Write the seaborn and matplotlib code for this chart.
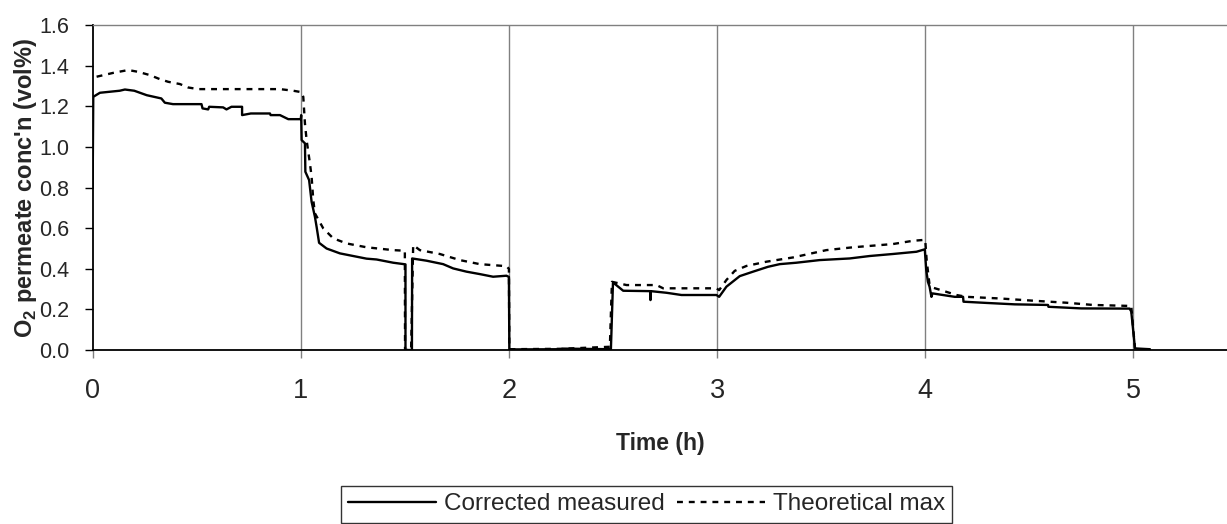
import pandas as pd
import matplotlib
matplotlib.use("Agg")
import matplotlib.pyplot as plt
import seaborn as sns

# data
meas_t = [0.0, 0.003, 0.035, 0.13, 0.155, 0.2, 0.26, 0.33, 0.347, 0.386, 0.523, 0.528,
          0.555, 0.56, 0.627, 0.643, 0.667, 0.718, 0.718, 0.76, 0.852, 0.855, 0.9, 0.94,
          1.0, 1.002, 1.004, 1.02, 1.022, 1.04, 1.052, 1.068, 1.076, 1.088, 1.124,
          1.188, 1.252, 1.316, 1.364, 1.444, 1.503, 1.503, 1.534, 1.535, 1.604, 1.684,
          1.732, 1.796, 1.86, 1.924, 1.988, 2.0, 2.002, 2.25, 2.26, 2.49, 2.5, 2.549,
          2.68, 2.68, 2.682, 2.757, 2.829, 2.997, 3.01, 3.045, 3.109, 3.173, 3.245,
          3.301, 3.381, 3.493, 3.637, 3.733, 3.845, 3.958, 3.998, 4.005, 4.013, 4.021,
          4.03, 4.035, 4.085, 4.142, 4.182, 4.184, 4.294, 4.43, 4.59, 4.592, 4.75,
          4.982, 4.99, 5.008, 5.08]
meas_v = [0.80, 1.247, 1.267, 1.277, 1.283, 1.277, 1.255, 1.239, 1.218, 1.211, 1.211, 1.19,
          1.185, 1.198, 1.195, 1.185, 1.198, 1.198, 1.157, 1.165, 1.165, 1.157, 1.157, 1.137,
          1.137, 1.157, 1.034, 1.018, 0.878, 0.837, 0.73, 0.656, 0.607, 0.528, 0.50,
          0.476, 0.463, 0.45, 0.446, 0.43, 0.422, 0.0, 0.0, 0.451, 0.44, 0.423,
          0.402, 0.386, 0.374, 0.361, 0.366, 0.36, 0.003, 0.004, 0.007, 0.004, 0.333, 0.292,
          0.29, 0.246, 0.29, 0.282, 0.271, 0.271, 0.262, 0.312, 0.364, 0.386, 0.41,
          0.423, 0.43, 0.443, 0.451, 0.463, 0.473, 0.484, 0.496, 0.394, 0.336, 0.312,
          0.262, 0.279, 0.271, 0.262, 0.262, 0.238, 0.232, 0.225, 0.222, 0.213, 0.205,
          0.204, 0.19, 0.008, 0.004]

theo_t = [0.019, 0.099, 0.171, 0.219, 0.275, 0.323, 0.363, 0.419, 0.459, 0.507, 0.9,
          0.964, 1.003, 1.012, 1.02, 1.028, 1.044, 1.052, 1.06, 1.068, 1.108, 1.156,
          1.22, 1.316, 1.444, 1.5, 1.501, 1.53, 1.54, 1.572, 1.668, 1.764, 1.86, 1.988,
          2.0, 2.002, 2.25, 2.485, 2.49, 2.495, 2.53, 2.565, 2.709, 2.741, 2.997, 3.01,
          3.045, 3.085, 3.141, 3.237, 3.365, 3.525, 3.653, 3.845, 3.941, 3.99, 4.0,
          4.007, 4.02, 4.035, 4.085, 4.15, 4.198, 4.358, 4.518, 4.678, 4.806, 4.99,
          5.0, 5.008]
theo_v = [1.346, 1.365, 1.379, 1.37, 1.354, 1.334, 1.321, 1.31, 1.293, 1.285, 1.285,
          1.277, 1.27, 1.247, 1.116, 1.034, 0.919, 0.853, 0.739, 0.673, 0.599, 0.55,
          0.525, 0.506, 0.492, 0.489, 0.0, 0.0, 0.517, 0.492, 0.473, 0.443, 0.423, 0.413,
          0.40, 0.004, 0.006, 0.016, 0.18, 0.336, 0.328, 0.32, 0.32, 0.304, 0.304, 0.295,
          0.345, 0.39, 0.414, 0.435, 0.456, 0.492, 0.506, 0.522, 0.538, 0.542, 0.542,
          0.443, 0.328, 0.308, 0.292, 0.271, 0.262, 0.254, 0.243, 0.233, 0.222, 0.217,
          0.098, 0.008]

x_ticks = [0, 1, 2, 3, 4, 5]
y_ticks = [0.0, 0.2, 0.4, 0.6, 0.8, 1.0, 1.2, 1.4, 1.6]

meas = pd.DataFrame({"t": meas_t, "v": meas_v})
theo = pd.DataFrame({"t": theo_t, "v": theo_v})

sns.set_style("white")
plt.rcParams["font.family"] = ["Liberation Sans", "DejaVu Sans"]
plt.rcParams["mathtext.fontset"] = "custom"
plt.rcParams["mathtext.rm"] = "Liberation Sans"
plt.rcParams["mathtext.bf"] = "Liberation Sans:bold"

fig = plt.figure(figsize=(12.27, 5.24), dpi=100)
ax = fig.add_axes([0.0755, 0.332, 0.9245, 0.62])

for xv in x_ticks[1:]:
    ax.axvline(xv, color="#808080", lw=1.0, zorder=0)

sns.lineplot(data=meas, x="t", y="v", ax=ax, color="black", lw=1.7,
             estimator=None, sort=False, label="Corrected measured")
sns.lineplot(data=theo, x="t", y="v", ax=ax, color="black", lw=1.7,
             estimator=None, sort=False, label="Theoretical max",
             linestyle=(0, (2.5, 2.5)))

ax.set_xlim(0, 5.45)
ax.set_ylim(0, 1.6)
ax.set_xticks(x_ticks)
ax.set_yticks(y_ticks)
ax.set_yticklabels([f"{v:.1f}" for v in y_ticks])
ax.tick_params(axis="x", labelsize=19.5, length=6, width=1, direction="out",
               bottom=True, color="#808080", pad=14)
ax.tick_params(axis="y", labelsize=15.5, length=6, width=1, direction="out",
               left=True, color="black", pad=11)

for side in ["left", "bottom"]:
    ax.spines[side].set_color("black")
    ax.spines[side].set_linewidth(1.3)
ax.spines["top"].set_color("#808080")
ax.spines["top"].set_linewidth(1.0)
ax.spines["right"].set_visible(False)

ax.set_xlabel("Time (h)", fontsize=16.5, fontweight="bold", labelpad=20)
ax.set_ylabel(r"O$_\mathbf{2}$ permeate conc'n (vol%)", fontsize=17,
              fontweight="bold", labelpad=0)

ax.get_legend().remove()
handles, labels = ax.get_legend_handles_labels()
leg = fig.legend(handles, labels, loc="upper center", ncol=2,
                 bbox_to_anchor=(0.527, 0.0725), fontsize=17.5, frameon=True,
                 fancybox=False, edgecolor="black", handlelength=3.6,
                 borderpad=0.3, borderaxespad=0, columnspacing=0.5,
                 handletextpad=0.35)
leg.get_frame().set_linewidth(1.0)

fig.savefig("out.png", dpi=100)
